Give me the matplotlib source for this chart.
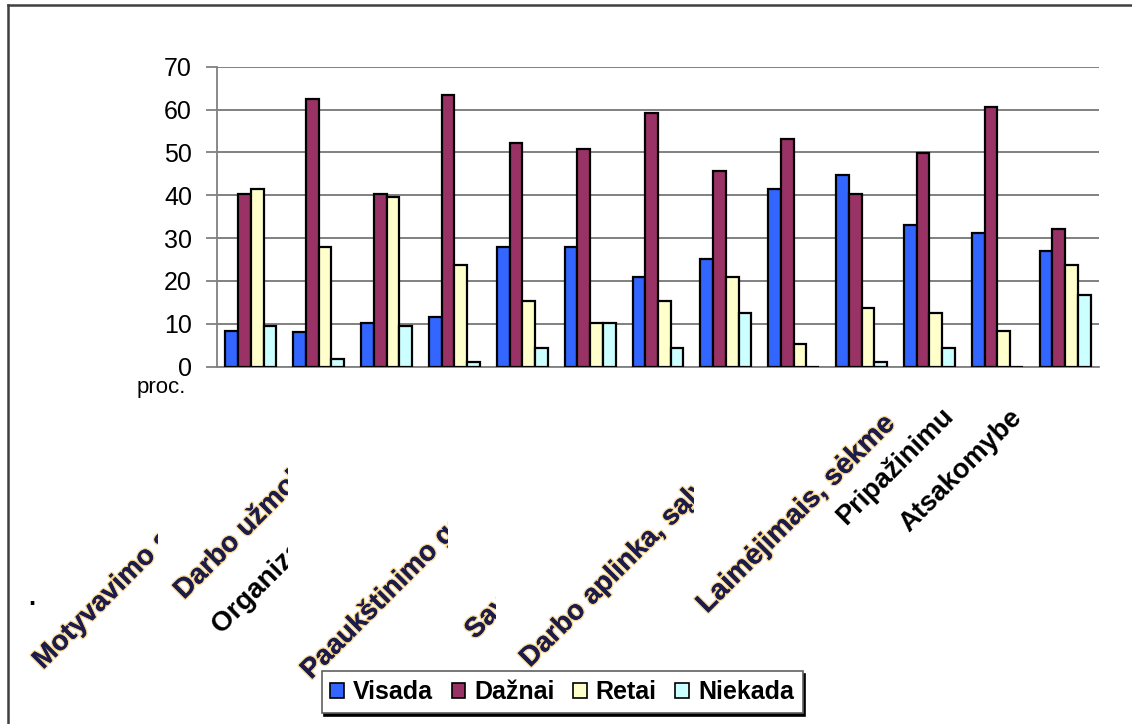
import matplotlib
matplotlib.use('Agg')
import matplotlib.pyplot as plt
import numpy as np
from matplotlib.transforms import Bbox, TransformedBbox
import matplotlib.patheffects as pe
from matplotlib.lines import Line2D

plt.rcParams['font.family'] = ['Liberation Sans', 'DejaVu Sans']

# ---- data ----
series_names = ['Visada', 'Dažnai', 'Retai', 'Niekada']
visada = [8.4, 8.0, 10.3, 11.7, 28.0, 28.0, 21.0, 25.2, 41.5, 44.7, 33.1, 31.2, 27.0]
daznai = [40.4, 62.4, 40.4, 63.3, 52.2, 50.8, 59.1, 45.7, 53.1, 40.4, 49.8, 60.5, 32.2]
retai = [41.5, 28.0, 39.6, 23.8, 15.4, 10.3, 15.4, 21.0, 5.2, 13.6, 12.6, 8.4, 23.8]
niekada = [9.4, 1.9, 9.4, 1.0, 4.3, 10.3, 4.3, 12.6, 0.0, 1.0, 4.3, 0.0, 16.8]
y_ticks = [0, 10, 20, 30, 40, 50, 60, 70]
y_unit = 'proc.'
category_labels = ['Motyvavimo sistema', 'Darbo užmokestis', 'Organizacijos kultūra',
                   'Paaukštinimo galimybės', 'Savarankiškumas', 'Darbo aplinka, sąlygos',
                   'Laimėjimais, sėkme', 'Pripažinimu', 'Atsakomybe']

colors = ['#3366FF', '#993366', '#FFFFCC', '#CCFFFF']

W, H = 1132, 724
fig = plt.figure(figsize=(W / 100, H / 100), dpi=100)
fig.patch.set_facecolor('white')

def fx(x):
    return x / W

def fy(y):
    return 1 - y / H

ax = fig.add_axes([fx(217), fy(366.7), fx(1099) - fx(217), fy(66.7) - fy(366.7)])
series = [visada, daznai, retai, niekada]
n = len(visada)
x = np.arange(n)
bw = 0.75 / 4
for i, (vals, c, name) in enumerate(zip(series, colors, series_names)):
    ax.bar(x - 0.375 + bw * (i + 0.5), vals, width=bw, color=c, edgecolor='black',
           linewidth=1.6, label=name, zorder=3)

ax.set_xlim(-0.5, n - 0.5)
ax.set_ylim(0, 70)
ax.set_yticks(y_ticks)
ax.set_yticklabels([str(t) for t in y_ticks], fontsize=18)
ax.yaxis.grid(True, color='#808080', linewidth=1.4, zorder=0)
ax.set_axisbelow(True)
ax.set_xticks([])
for s in ['top', 'right']:
    ax.spines[s].set_visible(False)
ax.spines['left'].set_color('#808080')
ax.spines['left'].set_linewidth(1.3)
ax.spines['bottom'].set_color('#808080')
ax.spines['bottom'].set_linewidth(1.3)
ax.tick_params(axis='y', length=8, width=1.3, color='#808080', pad=10)

fig.text(fx(186), fy(388), y_unit, fontsize=16, ha='right', va='center')

# rotated category labels (clipped as in the reference)
label_pos = [(43, 670, 158, True, 20), (184, 600, 288, True, 20), (222, 635, 288, False, 20),
             (311, 680, 448, True, 20), (475, 640, 496, True, 20), (530, 668, 694, True, 20),
             (707, 614, None, True, 20.5), (846, 526, None, False, 19.5), (909, 533, None, False, 19.5)]
for lab, (px, py, clipx, halo, fs) in zip(category_labels, label_pos):
    kw = dict(fontsize=fs, fontweight='bold', rotation=45, rotation_mode='anchor',
              ha='left', va='baseline')
    if halo:
        kw['color'] = '#1c1c4a'
        kw['path_effects'] = [pe.withStroke(linewidth=2, foreground='#f5d490'), pe.Normal()]
    else:
        kw['color'] = 'black'
    t = fig.text(fx(px), fy(py), lab, **kw)
    if clipx is not None:
        t.set_clip_box(TransformedBbox(Bbox.from_extents(0, 0, fx(clipx), 1), fig.transFigure))
        t.set_clip_on(True)

fig.text(fx(32), fy(598), '.', fontsize=18, fontweight='bold', ha='center', va='center')

leg = ax.legend(loc='center', bbox_to_anchor=(fx(562), fy(692)), bbox_transform=fig.transFigure,
                ncol=4, prop={'size': 18, 'weight': 'bold'}, frameon=True, fancybox=False,
                handlelength=0.55, handleheight=0.55, handletextpad=0.35, columnspacing=0.75,
                borderpad=0.35, shadow={'color': 'black', 'alpha': 1})
leg.get_frame().set_edgecolor('#606060')
leg.get_frame().set_linewidth(1.2)
for p in leg.get_patches():
    p.set_linewidth(1.2)

# outer border (top and left)
fig.add_artist(Line2D([fx(8), 1], [fy(5), fy(5)], color='#404040', linewidth=1.8))
fig.add_artist(Line2D([fx(8), fx(8)], [fy(5), 0], color='#404040', linewidth=1.8))

fig.savefig('out.png', dpi=100)
